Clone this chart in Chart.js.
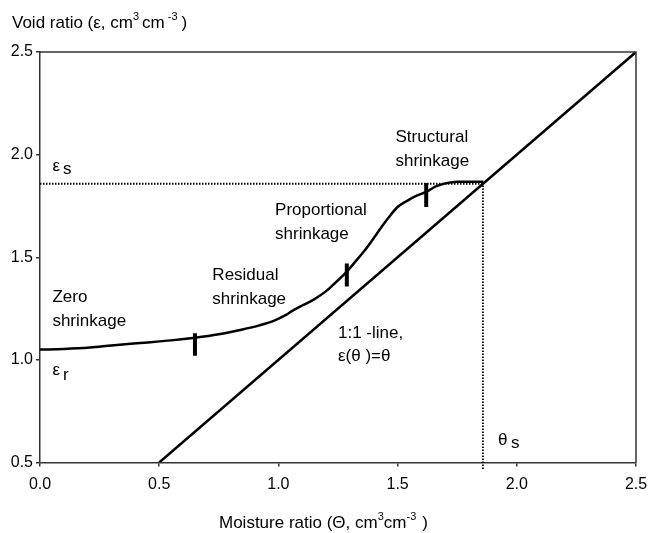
<!DOCTYPE html>
<html><head><meta charset="utf-8">
<script src="https://cdn.jsdelivr.net/npm/chart.js@4"></script>
<style>html,body{margin:0;padding:0;background:#fff}</style>
</head><body>
<canvas id="c" width="656" height="533"></canvas>
<script>
// ---- data ----
const curveX = [0, 0.1, 0.21, 0.3, 0.42, 0.55, 0.65, 0.75, 0.84, 0.92, 0.98, 1.03, 1.06, 1.1, 1.15, 1.2, 1.23, 1.287, 1.32, 1.36, 1.41, 1.44, 1.47, 1.5, 1.54, 1.58, 1.62, 1.66, 1.7, 1.75, 1.86];
const curveY = [1.05, 1.053, 1.06, 1.07, 1.082, 1.095, 1.108, 1.125, 1.146, 1.168, 1.19, 1.218, 1.24, 1.265, 1.295, 1.335, 1.366, 1.43, 1.475, 1.53, 1.61, 1.66, 1.705, 1.745, 1.775, 1.8, 1.818, 1.845, 1.86, 1.868, 1.868];
const lineX = [0.5, 2.5];
const lineY = [0.5, 2.5];
const epsS = 1.858;      // saturated void ratio
const thetaS = 1.858;    // saturated moisture ratio
const markerX = [0.65, 1.287, 1.62];
const markerLow = [1.02, 1.357, 1.745];
const markerHigh = [1.13, 1.47, 1.862];
const xTicks = [0, 0.5, 1.0, 1.5, 2.0, 2.5];
const yTicks = [0.5, 1.0, 1.5, 2.0, 2.5];

// ---- annotation texts (data coordinates) ----
const noteText = ['Zero', 'shrinkage', 'Residual', 'shrinkage', 'Proportional', 'shrinkage', 'Structural', 'shrinkage', '1:1 -line,', 'ε(θ )=θ'];
const noteX = [0.052, 0.052, 0.723, 0.723, 0.986, 0.986, 1.491, 1.491, 1.25, 1.25];
const noteY = [1.283, 1.166, 1.390, 1.273, 1.707, 1.590, 2.063, 1.946, 1.107, 0.995];

const FONT = '"Liberation Sans", Arial, sans-serif';
const INK = '#000';
const AXIS = '#333';

const pts = (xs, ys) => xs.map((x, i) => ({x: x, y: ys[i]}));

const datasets = [
  {data: pts(curveX, curveY), borderColor: INK, borderWidth: 2.5, cubicInterpolationMode: 'monotone'},
  {data: pts(lineX, lineY), borderColor: INK, borderWidth: 2.5},
  {data: [{x: 0, y: epsS}, {x: thetaS, y: epsS}], borderColor: INK, borderWidth: 1.8, borderDash: [1.5, 1.5]},
  {data: [{x: thetaS, y: 0.468}, {x: thetaS, y: epsS}], borderColor: INK, borderWidth: 1.8, borderDash: [1.5, 1.5], clip: false}
];
markerX.forEach((mx, i) => {
  datasets.push({data: [{x: mx, y: markerLow[i]}, {x: mx, y: markerHigh[i]}], borderColor: INK, borderWidth: 4, borderCapStyle: 'butt'});
});
datasets.forEach(d => { d.showLine = true; d.pointRadius = 0; d.pointHoverRadius = 0; d.fill = false; });

function drawRuns(ctx, x, y, runs) {
  let cx = x;
  runs.forEach(r => {
    ctx.font = r.size + 'px ' + FONT;
    ctx.fillText(r.t, cx, y + (r.dy || 0));
    cx += ctx.measureText(r.t).width + (r.gap || 0);
  });
}

const textPlugin = {
  id: 'texts',
  afterDraw(chart) {
    const ctx = chart.ctx, xs = chart.scales.x, ys = chart.scales.y, a = chart.chartArea;
    ctx.save();
    // frame (top & right)
    ctx.strokeStyle = AXIS; ctx.lineWidth = 1.5;
    ctx.beginPath();
    ctx.moveTo(a.left, a.top); ctx.lineTo(a.right, a.top); ctx.lineTo(a.right, a.bottom);
    ctx.stroke();
    ctx.fillStyle = INK;
    ctx.textBaseline = 'alphabetic';
    ctx.textAlign = 'left';
    ctx.font = '17px ' + FONT;
    noteText.forEach((t, i) => {
      ctx.fillText(t, xs.getPixelForValue(noteX[i]), ys.getPixelForValue(noteY[i]));
    });
    // symbol labels with subscripts
    ctx.font = '17px ' + FONT;
    ctx.fillText('ε', xs.getPixelForValue(0.052), ys.getPixelForValue(1.922));
    ctx.fillText('s', xs.getPixelForValue(0.096), ys.getPixelForValue(1.907));
    ctx.fillText('ε', xs.getPixelForValue(0.052), ys.getPixelForValue(0.927));
    ctx.fillText('r', xs.getPixelForValue(0.096), ys.getPixelForValue(0.902));
    ctx.fillText('θ', xs.getPixelForValue(1.921), ys.getPixelForValue(0.585));
    ctx.fillText('s', xs.getPixelForValue(1.976), ys.getPixelForValue(0.573));
    // axis titles
    drawRuns(ctx, 12, 28, [
      {t: 'Void ratio (ε, cm', size: 17},
      {t: '3', size: 11, dy: -8, gap: 3},
      {t: 'cm', size: 17},
      {t: ' -3', size: 11, dy: -8, gap: 4},
      {t: ')', size: 17}
    ]);
    drawRuns(ctx, 219, 528, [
      {t: 'Moisture ratio (Θ, cm', size: 17},
      {t: '3', size: 11, dy: -8},
      {t: 'cm', size: 17},
      {t: '-3', size: 11, dy: -8, gap: 6},
      {t: ')', size: 17}
    ]);
    ctx.restore();
  }
};

const axisCommon = {
  type: 'linear',
  grid: {drawOnChartArea: false, drawTicks: true, tickLength: 4, color: AXIS, lineWidth: 1.5},
  border: {color: AXIS, width: 1.5}
};

new Chart(document.getElementById('c'), {
  type: 'scatter',
  data: {datasets: datasets},
  options: {
    responsive: false,
    animation: false,
    events: [],
    layout: {padding: {top: 52, right: 20, left: 0, bottom: 0}},
    plugins: {legend: {display: false}, tooltip: {enabled: false}},
    scales: {
      x: Object.assign({}, axisCommon, {
        min: 0, max: 2.5,
        afterBuildTicks: s => { s.ticks = xTicks.map(v => ({value: v})); },
        ticks: {callback: v => Number(v).toFixed(1), font: {family: FONT, size: 16}, color: INK, padding: 8, maxRotation: 0, autoSkip: false},
        afterFit: s => { s.height = 70.5; }
      }),
      y: Object.assign({}, axisCommon, {
        min: 0.5, max: 2.5,
        afterBuildTicks: s => { s.ticks = yTicks.map(v => ({value: v})); },
        ticks: {callback: v => Number(v).toFixed(1), font: {family: FONT, size: 16}, color: INK, padding: 3, autoSkip: false},
        afterFit: s => { s.width = 40; }
      })
    }
  },
  plugins: [textPlugin]
});
</script>
</body></html>
